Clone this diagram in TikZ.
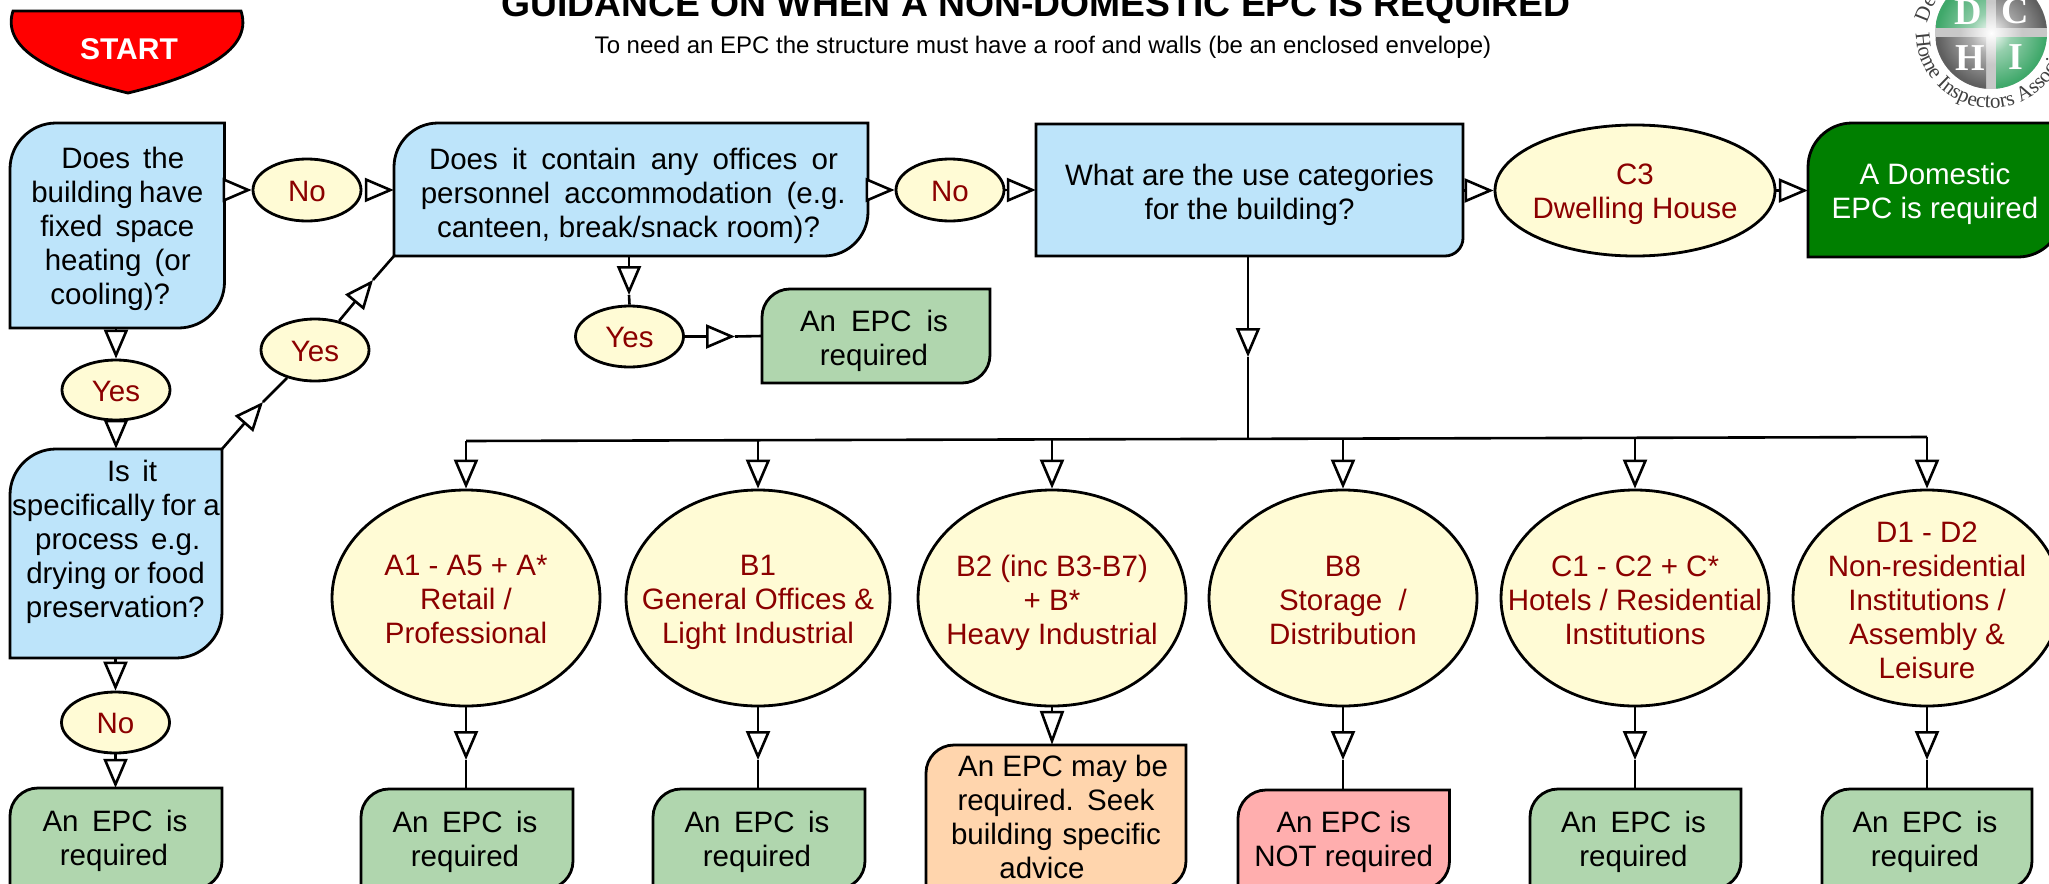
\documentclass[tikz,border=0pt]{standalone}
\usepackage{fontspec}
\setmainfont{Liberation Sans}
\newfontfamily\logofont{Liberation Serif}
\usetikzlibrary{shapes.geometric,arrows.meta,decorations.text}
\definecolor{qblue}{HTML}{BDE4FA}
\definecolor{qyellow}{HTML}{FFFBD5}
\definecolor{qgreen}{HTML}{B0D6AE}
\definecolor{qpeach}{HTML}{FFD5AD}
\definecolor{qpink}{HTML}{FFAEAE}
\definecolor{qdark}{HTML}{007F00}
\definecolor{qred}{HTML}{8B0000}
\definecolor{lgreen}{HTML}{3FA86A}
\definecolor{lgrey}{HTML}{5F5F5F}
\definecolor{lband}{HTML}{C8C8C8}
\pgfdeclareradialshading{glowgreen}{\pgfpointorigin}{color(0bp)=(white);color(9bp)=(lgreen!55!white);color(24bp)=(lgreen);color(50bp)=(lgreen)}
\pgfdeclareradialshading{glowgrey}{\pgfpointorigin}{color(0bp)=(white);color(9bp)=(lgrey!50!white);color(24bp)=(lgrey);color(50bp)=(lgrey)}
\pgfdeclareradialshading{glowband}{\pgfpointorigin}{color(0bp)=(white);color(14bp)=(lband);color(50bp)=(lband)}
\newcommand\jl[3]{\hspace*{#1pt}\makebox[#2pt][s]{#3}\hspace*{-#1pt}}
\newcommand\nl[2]{\hspace*{#1pt}#2\hspace*{-#1pt}}
\newcommand\qdown{4}
\tikzset{
  x=1pt,y=-1pt,
  shapeline/.style={draw=black,line width=2.8pt,line join=miter},
  evenstrut/.style={execute at begin node={\setbox0=\hbox\bgroup},execute at end node={\egroup\dp0=6.5pt \ht0=\dimexpr\ht0+2\dimexpr\qdown pt\relax\relax\box0 }},
  txt/.style={font=\fontsize{29.5}{34}\selectfont,align=center,inner sep=0pt,text=black,evenstrut},
  oval/.style={ellipse,shapeline,fill=qyellow,inner xsep=-70pt,inner ysep=-50pt,font=\fontsize{29.5}{34}\selectfont,align=center,text=qred,evenstrut},
  conn/.style={draw=black,line width=2.6pt},
  tri/.style={conn,-{Triangle[length=29pt,width=24pt,fill=white]}},
  longtri/.style={conn,-{Triangle[length=34pt,width=24pt,fill=white]}},
  logoletter/.style={text=white,font=\logofont\bfseries\fontsize{38}{38}\selectfont,inner sep=0pt},
  logoring/.style={text=black!75,font=\logofont\fontsize{21}{21}\selectfont,inner sep=0pt},
}
% name, x1,y1,x2,y2, fill, rTL, rBR, text
\newcommand\qbox[9]{%
  \path[shapeline,fill=#6] ({#2},{#3+#7}) .. controls ({#2},{#3+.45*#7}) and ({#2+.45*#7},{#3}) .. ({#2+#7},{#3})
    -- ({#4},{#3}) -- ({#4},{#5-#8}) .. controls ({#4},{#5-.45*#8}) and ({#4-.45*#8},{#5}) .. ({#4-#8},{#5})
    -- ({#2},{#5}) -- cycle;
  \node[txt,minimum width={(#4-#2)*1pt},minimum height={(#5-#3)*1pt}] (#1) at ({(#2+#4)/2},{(#3+#5)/2}) {#9};
}
\begin{document}
\begin{tikzpicture}
\useasboundingbox (0,0) rectangle (2049,883);
\clip (0,0) rectangle (2049,883);
\fill[white] (0,0) rectangle (2049,883);

% logo
\shade[shading=glowband] (1991,33) circle (56);
\begin{scope}
  \clip (1936,-22) rectangle (1986,28); \shade[shading=glowgreen] (1991,33) circle (56);
\end{scope}
\begin{scope}
  \clip (1996,-22) rectangle (2047,28); \shade[shading=glowgrey] (1991,33) circle (56);
\end{scope}
\begin{scope}
  \clip (1936,38) rectangle (1986,90); \shade[shading=glowgrey] (1991,33) circle (56);
\end{scope}
\begin{scope}
  \clip (1996,38) rectangle (2047,90); \shade[shading=glowgreen] (1991,33) circle (56);
\end{scope}
\node[logoletter] (ld) at (1968,12) {D};
\node[logoletter] (lc) at (2015,11) {C};
\node[logoletter] (lh) at (1970,58) {H};
\node[logoletter] (li) at (2016,57) {I};
\node[logoring,rotate=68] (lde1) at (1923,14) {D};
\node[logoring,rotate=58] (lde2) at (1930,2) {e};
\path[decorate,decoration={text along path,text={|\logofont\fontsize{21}{21}\selectfont\color{black!75}|Home Inspectors Association}}]
  (1991,33) ++(180:75) arc[start angle=180,end angle=0,radius=75];

% title
\node[anchor=base,inner sep=0pt,font=\bfseries\fontsize{37.3}{38}\selectfont] (title) at (1036,17) {GUIDANCE ON WHEN A NON-DOMESTIC EPC IS REQUIRED};
\node[anchor=base,inner sep=0pt,font=\fontsize{24}{28}\selectfont] (sub) at (1043,53) {To need an EPC the structure must have a roof and walls (be an enclosed envelope)};

% start
\path[shapeline,fill=red] (13,11) -- (241,11) .. controls (252,45) and (215,72) .. (128,93) .. controls (41,72) and (2,45) .. (13,11) -- cycle;
\node[text=white,font=\bfseries\fontsize{30}{34}\selectfont,inner sep=0pt] (start) at (129,49) {START};

% question boxes
\renewcommand\qdown{4}
\qbox{q1}{10}{123}{224.5}{328}{qblue}{46}{46}{\jl{5.5}{123}{Does the}\\\jl{0}{172}{building have}\\\jl{0}{154}{fixed space}\\\jl{1}{146}{heating (or}\\\nl{-7}{cooling)?}}
\renewcommand\qdown{6.5}
\qbox{q2}{394}{123}{868}{256}{qblue}{44}{44}{\jl{2.5}{409}{Does it contain any offices or}\\\jl{4.5}{425}{personnel accommodation (e.g.}\\\jl{-2.5}{383}{canteen, break/snack room)?}}
\renewcommand\qdown{3}
\qbox{q3}{10}{449}{222}{658}{qblue}{46}{46}{\jl{16}{50}{Is it}\\\jl{0}{207.5}{specifically for a}\\\jl{3.5}{165}{process e.g.}\\\jl{-1}{178.5}{drying or food}\\\nl{-1.5}{preservation?}\\[-6pt]\mbox{}}
\renewcommand\qdown{5}
\qbox{q4}{1036}{124}{1463}{256}{qblue}{0}{18}{What are the use categories\\for the building?}
\renewcommand\qdown{4}
\qbox{dom}{1808}{123}{2062}{257}{qdark}{44}{44}{\textcolor{white}{A Domestic}\\\textcolor{white}{EPC is required}}

% outcome boxes
\renewcommand\qdown{5}
\qbox{ry}{762}{289}{990}{383}{qgreen}{28}{28}{\jl{-2}{148}{An EPC is}\\\nl{-2}{required}}
\renewcommand\qdown{2.6}
\qbox{r0}{10}{788}{222}{889}{qgreen}{28}{28}{\jl{-1}{145}{An EPC is}\\\nl{-2}{required}}
\qbox{ra}{361}{789}{573}{889}{qgreen}{28}{28}{\jl{-2}{145}{An EPC is}\\\nl{-2}{required}}
\qbox{rb}{653}{789}{865}{889}{qgreen}{28}{28}{\jl{-2}{145}{An EPC is}\\\nl{-2}{required}}
\qbox{rc}{926}{745}{1186}{889}{qpeach}{28}{28}{\nl{7}{An EPC may be}\\\jl{0}{197}{required.  Seek}\\\jl{0}{210}{building specific}\\\nl{-14}{advice}}
\qbox{rd}{1238}{790}{1449.5}{889}{qpink}{28}{28}{An EPC is\\NOT required}
\qbox{re}{1530}{789}{1741}{889}{qgreen}{28}{28}{\jl{-2}{145}{An EPC is}\\\nl{-2}{required}}
\qbox{rf}{1822}{789}{2032}{889}{qgreen}{28}{28}{\jl{-2}{145}{An EPC is}\\\nl{-2}{required}}

% small ovals
\renewcommand\qdown{4.5}
\node[oval,minimum width=108pt,minimum height=62pt] (no1) at (307,190) {No};
\node[oval,minimum width=108pt,minimum height=62pt] (no2) at (950,190) {No};
\node[oval,minimum width=108pt,minimum height=61pt] (no3) at (115.5,722.5) {No};
\node[oval,minimum width=108pt,minimum height=60pt] (yes1) at (116,390) {Yes};
\node[oval,minimum width=108pt,minimum height=62pt] (yes2) at (315,350) {Yes};
\node[oval,minimum width=108pt,minimum height=61pt] (yes3) at (629.5,336.5) {Yes};
\renewcommand\qdown{4}
\node[oval,minimum width=280pt,minimum height=131pt] (c3) at (1635,190.5) {C3\\Dwelling House};

% category ovals
\renewcommand\qdown{5}
\node[oval,minimum width=268pt,minimum height=216pt] (a) at (466,598) {A1 - A5 + A*\\Retail /\\Professional};
\node[oval,minimum width=264pt,minimum height=216pt] (b) at (758,598) {B1\\General Offices \&\\Light Industrial};
\node[oval,minimum width=268pt,minimum height=216pt] (c) at (1052,598) {B2 (inc B3-B7)\\+ B*\\Heavy Industrial};
\node[oval,minimum width=268pt,minimum height=216pt] (d) at (1343,598) {B8\\Storage\ \ /\\Distribution};
\node[oval,minimum width=268pt,minimum height=216pt] (e) at (1635,598) {C1 - C2 + C*\\Hotels / Residential\\Institutions};
\node[oval,minimum width=268pt,minimum height=216pt] (f) at (1927,598) {D1 - D2\\Non-residential\\Institutions /\\Assembly \&\\Leisure};

% named way points
\coordinate (m1) at (263,402);
\coordinate (m2) at (373,280);
\coordinate (m3) at (629,295);
\coordinate (m4) at (735,336.5);
\coordinate (m5) at (1248,357);
\coordinate (j) at (1248,439);
\coordinate (ba) at (466,441);
\coordinate (bb) at (758,440.2);
\coordinate (bc) at (1052,439.4);
\coordinate (bd) at (1343,438.6);
\coordinate (be) at (1635,437.8);
\coordinate (bf) at (1927,437);
\coordinate (ma) at (466,760);
\coordinate (mb) at (758,760);
\coordinate (md) at (1343,760);
\coordinate (me) at (1635,760);
\coordinate (mf) at (1927,760);
\coordinate (n1s) at (365,190);

% connectors
\draw[tri] (q1.east |- no1) -- (no1.west);
\draw[tri] (n1s) -- (q2.west |- no1);
\draw[tri] (q1.south -| yes1) -- (yes1.north);
\draw[tri] (yes1.south) -- (q3.north -| yes1);
\draw[tri] (q3.north east) -- (m1);
\draw[conn] (m1) -- (yes2);
\draw[tri] (yes2) -- (m2);
\draw[conn] (m2) -- (q2.south west);
\draw[tri] (m3 |- q2.south) -- (m3);
\draw[conn] (m3) -- (yes3.north);
\draw[tri] (yes3.east) -- (m4);
\draw[conn] (m4) -- (ry.west);
\draw[tri] (q2.east |- no2) -- (no2.west);
\draw[tri] (no2.east) -- (q4.west |- no2);
\draw[tri] (q4.east |- c3) -- (c3.west);
\draw[tri] (c3.east) -- (dom.west |- c3);
\draw[tri] (m5 |- q4.south) -- (m5);
\draw[conn] (m5) -- (j);
\draw[conn] (ba) -- (bf);
\draw[tri] (ba) -- (a.north);
\draw[tri] (bb) -- (b.north);
\draw[tri] (bc) -- (c.north);
\draw[tri] (bd) -- (d.north);
\draw[tri] (be) -- (e.north);
\draw[tri] (bf) -- (f.north);
\draw[tri] (a.south) -- (ma);
\draw[conn] (ma) -- (ma |- ra.north);
\draw[tri] (b.south) -- (mb);
\draw[conn] (mb) -- (mb |- rb.north);
\draw[longtri] (c.south) -- (c.south |- rc.north);
\draw[tri] (d.south) -- (md);
\draw[conn] (md) -- (md |- rd.north);
\draw[tri] (e.south) -- (me);
\draw[conn] (me) -- (me |- re.north);
\draw[tri] (f.south) -- (mf);
\draw[conn] (mf) -- (mf |- rf.north);
\draw[tri] (q3.south -| no3) -- (no3.north);
\draw[tri] (no3.south) -- (r0.north -| no3);
\end{tikzpicture}
\end{document}
